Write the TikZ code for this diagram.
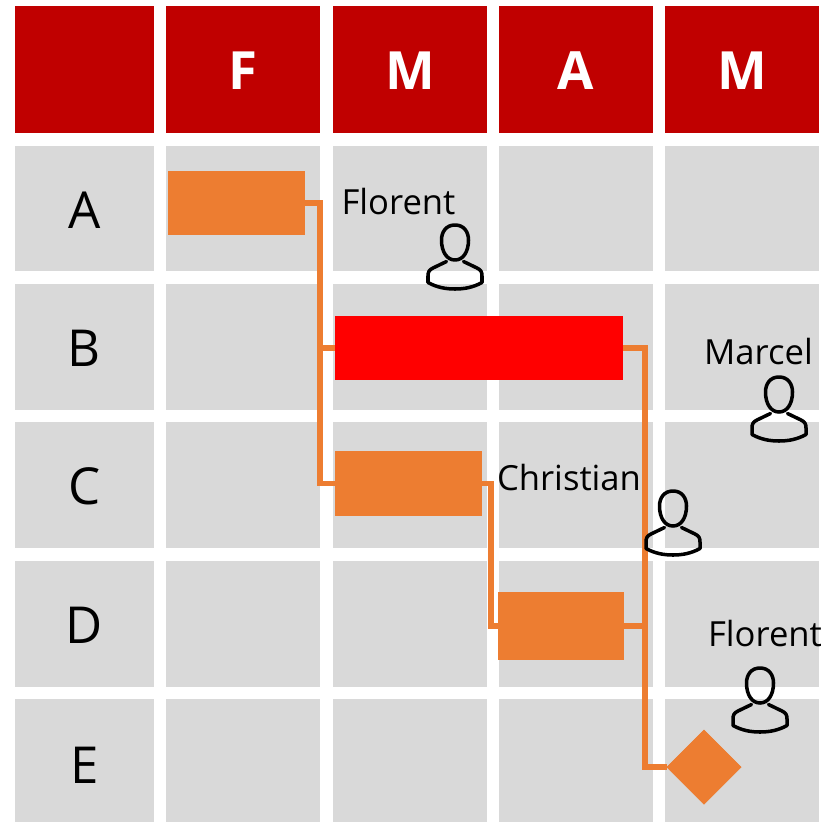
\documentclass[tikz,border=0pt]{standalone}
\usepackage{fontspec}
\setmainfont{Open Sans}
\definecolor{headred}{HTML}{C00000}
\definecolor{cellgray}{HTML}{D9D9D9}
\definecolor{taskorange}{HTML}{ED7D31}
\tikzset{
    box/.style n args={2}{inner sep=0pt,outer sep=0pt,minimum width=#1*0.02cm,minimum height=#2*0.02cm},
    head/.style={box={#1}{127},fill=headred,text=white,font=\fontsize{30}{30}\selectfont\bfseries,text height=22.4pt,text depth=0pt},
    cell/.style n args={2}{box={#1}{#2},fill=cellgray},
    rowlabel/.style={font=\fontsize{29}{29}\selectfont,text height=22.6pt,text depth=0pt},
    task/.style n args={2}{box={#1}{#2},fill=taskorange},
    who/.style={font=\fontsize{19.7}{20}\selectfont,inner sep=0pt},
    link/.style={draw=taskorange,line width=3pt,line join=miter},
    person/.pic={
        \draw[black,line width=2pt,line cap=round,line join=round]
            (0,-17) .. controls (-9,-17) and (-13.5,-10) .. (-13.5,-2)
            .. controls (-13.5,10) and (-8,18) .. (0,18)
            .. controls (8,18) and (13.5,10) .. (13.5,-2)
            .. controls (13.5,-10) and (9,-17) .. (0,-17);
        \draw[black,line width=2pt,line cap=round,line join=round]
            (-8.5,19.5) -- (-22,26) .. controls (-26,28) and (-27,30) .. (-27,34) -- (-27,40.5)
            .. controls (-18,45.5) and (-9,47) .. (0,47)
            .. controls (9,47) and (18,45.5) .. (27,40.5) -- (27,34)
            .. controls (27,30) and (26,28) .. (22,26) -- (8.5,19.5);
    }
}
\begin{document}
\begin{tikzpicture}[x=0.02cm,y=-0.02cm]
        \useasboundingbox (0,0) rectangle (825,822);

        % header row
        \node[head=139] (h0) at (84.5,69.5) {};
        \node[head=154] (h1) at (243,69.5) {F};
        \node[head=154] (h2) at (410,69.5) {M};
        \node[head=154] (h3) at (576,69.5) {A};
        \node[head=154] (h4) at (742,69.5) {M};

        % rows
        \node[cell={139}{125},rowlabel] (a0) at (84.5,208.5) {A};
        \node[cell={154}{125}] (a1) at (243,208.5) {};
        \node[cell={154}{125}] (a2) at (410,208.5) {};
        \node[cell={154}{125}] (a3) at (576,208.5) {};
        \node[cell={154}{125}] (a4) at (742,208.5) {};

        \node[cell={139}{126},rowlabel] (b0) at (84.5,347) {B};
        \node[cell={154}{126}] (b1) at (243,347) {};
        \node[cell={154}{126}] (b2) at (410,347) {};
        \node[cell={154}{126}] (b3) at (576,347) {};
        \node[cell={154}{126}] (b4) at (742,347) {};

        \node[cell={139}{126},rowlabel] (c0) at (84.5,485) {C};
        \node[cell={154}{126}] (c1) at (243,485) {};
        \node[cell={154}{126}] (c2) at (410,485) {};
        \node[cell={154}{126}] (c3) at (576,485) {};
        \node[cell={154}{126}] (c4) at (742,485) {};

        \node[cell={139}{126},rowlabel] (d0) at (84.5,624) {D};
        \node[cell={154}{126}] (d1) at (243,624) {};
        \node[cell={154}{126}] (d2) at (410,624) {};
        \node[cell={154}{126}] (d3) at (576,624) {};
        \node[cell={154}{126}] (d4) at (742,624) {};

        \node[cell={139}{123},rowlabel,text height=26pt] (e0) at (84.5,760.5) {E};
        \node[cell={154}{123}] (e1) at (243,760.5) {};
        \node[cell={154}{123}] (e2) at (410,760.5) {};
        \node[cell={154}{123}] (e3) at (576,760.5) {};
        \node[cell={154}{123}] (e4) at (742,760.5) {};

        % tasks
        \node[task={137}{64}] (taskA) at (236.5,203) {};
        \node[box={288}{64},fill=red] (taskB) at (479,348) {};
        \node[task={147}{65}] (taskC) at (408.5,483.5) {};
        \node[task={126}{68}] (taskD) at (561,626) {};
        \filldraw[taskorange] (704,730) -- (741,767) -- (704,804) -- (667,767) -- cycle;
        \coordinate (milestone) at (667,767);

        % links
        \coordinate (busA) at (320,348);
        \coordinate (busC) at (491,555);
        \coordinate (busB) at (645,626);
        \draw[link] (taskA.east) -| (busA) |- (taskC.west);
        \draw[link] (busA) -- (taskB.west);
        \draw[link] (taskC.east) -| (busC) |- (taskD.west);
        \draw[link] (taskB.east) -| (busB) |- (milestone);
        \draw[link] (taskD.east) -- (busB);

        % people
        \node[who] (florentA) at (398.5,202) {Florent};
        \pic at (455,242) {person};
        \node[who] (marcel) at (758.5,352) {Marcel};
        \pic at (779,394) {person};
        \node[who] (christian) at (569,478) {Christian};
        \pic at (673,508) {person};
        \node[who] (florentB) at (765,634) {Florent};
        \pic at (760,685) {person};
\end{tikzpicture}
\end{document}
